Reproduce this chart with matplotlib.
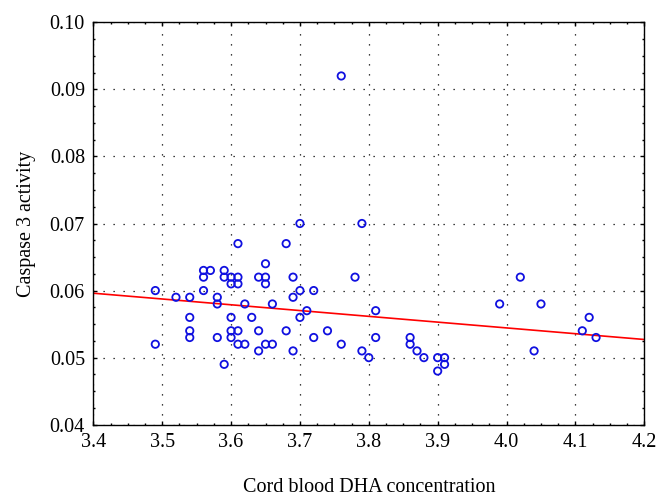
import matplotlib
matplotlib.use("Agg")
import matplotlib.pyplot as plt
from matplotlib.ticker import MultipleLocator
import numpy as np

# Data
dha = [3.49, 3.49, 3.52, 3.54, 3.54, 3.54, 3.54, 3.56, 3.56, 3.56, 3.57,
       3.58, 3.58, 3.58, 3.59, 3.59, 3.59, 3.60, 3.60, 3.60, 3.60, 3.60,
       3.61, 3.61, 3.61, 3.61, 3.61, 3.62, 3.62, 3.63, 3.64, 3.64, 3.64,
       3.65, 3.65, 3.65, 3.65, 3.66, 3.66, 3.68, 3.68, 3.69, 3.69, 3.69,
       3.70, 3.70, 3.70, 3.71, 3.72, 3.72, 3.74, 3.76, 3.76, 3.78, 3.79,
       3.79, 3.80, 3.81, 3.81, 3.86, 3.86, 3.87, 3.88, 3.90, 3.90, 3.91,
       3.91, 3.99, 4.02, 4.04, 4.05, 4.11, 4.12, 4.13]
caspase = [0.060, 0.052, 0.059, 0.059, 0.056, 0.054, 0.053, 0.063, 0.062, 0.060, 0.063,
           0.059, 0.058, 0.053, 0.063, 0.062, 0.049, 0.062, 0.061, 0.056, 0.054, 0.053,
           0.067, 0.062, 0.061, 0.054, 0.052, 0.058, 0.052, 0.056, 0.062, 0.054, 0.051,
           0.064, 0.062, 0.061, 0.052, 0.058, 0.052, 0.067, 0.054, 0.062, 0.059, 0.051,
           0.070, 0.060, 0.056, 0.057, 0.060, 0.053, 0.054, 0.092, 0.052, 0.062, 0.070,
           0.051, 0.050, 0.057, 0.053, 0.053, 0.052, 0.051, 0.050, 0.050, 0.048, 0.050,
           0.049, 0.058, 0.062, 0.051, 0.058, 0.054, 0.056, 0.053]

# Regression line
fit_intercept = 0.08893
fit_slope = -0.008625

x_ticks = [3.4, 3.5, 3.6, 3.7, 3.8, 3.9, 4.0, 4.1, 4.2]
y_ticks = [0.04, 0.05, 0.06, 0.07, 0.08, 0.09, 0.10]

plt.rcParams['font.family'] = ['Liberation Serif', 'DejaVu Serif']

fig = plt.figure(figsize=(6.7, 4.97), dpi=100)
ax = fig.add_axes([0.1393, 0.1455, 0.8223, 0.8096])

ax.set_xlim(3.4, 4.2)
ax.set_ylim(0.04, 0.10)

ax.grid(True, which='major', color='black', linestyle=(0, (1, 7)), linewidth=0.9)
ax.set_axisbelow(True)

ax.scatter(dha, caspase, s=28, facecolors='none', edgecolors='#1010e0', linewidths=1.3, zorder=3)

xl = np.array([3.4, 4.2])
ax.plot(xl, fit_intercept + fit_slope * xl, color='red', linewidth=1.2, zorder=2)

ax.set_xticks(x_ticks)
ax.set_xticklabels([f"{t:.1f}" for t in x_ticks])
ax.set_yticks(y_ticks)
ax.set_yticklabels([f"{t:.2f}" for t in y_ticks])
ax.xaxis.set_minor_locator(MultipleLocator(0.025))
ax.yaxis.set_minor_locator(MultipleLocator(0.0025))
ax.tick_params(which='both', direction='in', top=True, right=True, labelsize=14.5)
ax.tick_params(which='major', length=3, width=1)
ax.tick_params(which='minor', length=1.5, width=1)
ax.tick_params(axis='x', pad=6)
ax.tick_params(axis='y', pad=6)
for sp in ax.spines.values():
    sp.set_linewidth(1.0)

ax.set_xlabel("Cord blood DHA concentration", fontsize=14.5, labelpad=19)
ax.set_ylabel("Caspase 3 activity", fontsize=14.5, labelpad=10)

fig.savefig("out.png", dpi=100)
